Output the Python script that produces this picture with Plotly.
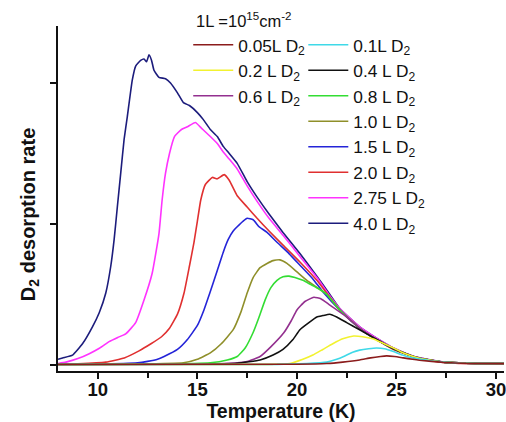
import plotly.graph_objects as go

# ---- data (Temperature K, D2 desorption rate, arb. units) ----
labels = ["0.05L D<sub>2</sub>", "0.1L D<sub>2</sub>", "0.2 L D<sub>2</sub>", "0.4 L D<sub>2</sub>",
          "0.6 L D<sub>2</sub>", "0.8 L D<sub>2</sub>", "1.0 L D<sub>2</sub>", "1.5 L D<sub>2</sub>",
          "2.0 L D<sub>2</sub>", "2.75 L D<sub>2</sub>", "4.0 L D<sub>2</sub>"]
colors = ["#8b1c1c", "#3fd9e8", "#f2f230", "#111111", "#93308f", "#33dd33",
          "#8f8f2a", "#2424d8", "#e03030", "#ff33ff", "#1c1c7c"]

T_005 = [8.0, 20.0, 21.5, 22.3, 23.15, 23.7, 24.2, 24.5, 24.9, 25.35, 25.8, 26.15, 27.35, 28.5, 30.5]
v_005 = [0.003, 0.005, 0.01, 0.02, 0.035, 0.05, 0.06, 0.064, 0.06, 0.05, 0.04, 0.033, 0.018, 0.011, 0.009]

T_01 = [8.0, 19.0, 20.5, 21.5, 22.0, 22.35, 22.8, 23.15, 23.6, 24.0, 24.4, 24.85, 25.3, 25.65, 26.15, 27.35, 28.5, 30.5]
v_01 = [0.003, 0.004, 0.01, 0.02, 0.04, 0.06, 0.09, 0.105, 0.115, 0.12, 0.115, 0.095, 0.07, 0.055, 0.042, 0.02, 0.012, 0.01]

T_02 = [8.0, 18.5, 19.65, 20.3, 20.8, 21.3, 21.8, 22.3, 22.85, 23.3, 23.8, 24.3, 24.85, 25.35, 26.15, 27.35, 28.5, 30.5]
v_02 = [0.003, 0.004, 0.01, 0.04, 0.07, 0.11, 0.15, 0.185, 0.205, 0.2, 0.185, 0.155, 0.12, 0.085, 0.048, 0.02, 0.012, 0.01]

T_04 = [8.0, 15.0, 17.0, 18.15, 18.8, 19.3, 19.8, 20.15, 20.6, 21.0, 21.3, 21.65, 22.0, 22.5, 23.15, 24.0, 24.85, 25.5, 26.15, 27.35, 28.5, 30.5]
v_04 = [0.003, 0.005, 0.012, 0.035, 0.07, 0.11, 0.18, 0.25, 0.30, 0.34, 0.35, 0.36, 0.34, 0.30, 0.25, 0.18, 0.115, 0.078, 0.048, 0.02, 0.012, 0.01]

T_06 = [8.0, 14.0, 16.5, 17.5, 18.15, 18.7, 19.35, 19.7, 20.0, 20.4, 20.85, 21.2, 21.6, 22.0, 22.5, 23.15, 24.0, 24.85, 25.5, 26.15, 27.35, 28.5, 30.5]
v_06 = [0.004, 0.005, 0.012, 0.025, 0.06, 0.13, 0.23, 0.31, 0.39, 0.45, 0.48, 0.47, 0.43, 0.39, 0.34, 0.26, 0.18, 0.115, 0.078, 0.048, 0.02, 0.012, 0.01]

T_08 = [8.0, 13.0, 15.65, 16.5, 17.0, 17.4, 17.8, 18.1, 18.4, 18.7, 19.0, 19.3, 19.6, 19.9, 20.3, 20.7, 21.1, 21.5, 22.15, 23.15, 24.0, 24.85, 25.5, 26.15, 27.35, 28.5, 30.5]
v_08 = [0.004, 0.006, 0.015, 0.035, 0.06, 0.12, 0.23, 0.34, 0.46, 0.55, 0.60, 0.625, 0.63, 0.62, 0.60, 0.57, 0.54, 0.50, 0.39, 0.26, 0.18, 0.115, 0.078, 0.048, 0.02, 0.012, 0.01]

T_10 = [8.0, 12.0, 14.3, 15.0, 15.65, 16.2, 16.8, 17.2, 17.5, 17.8, 18.15, 18.5, 18.8, 19.15, 19.5, 20.0, 20.5, 21.0, 21.5, 22.15, 23.15, 24.0, 24.85, 25.5, 26.15, 27.35, 28.5, 30.5]
v_10 = [0.004, 0.006, 0.015, 0.04, 0.085, 0.15, 0.25, 0.38, 0.51, 0.62, 0.69, 0.72, 0.74, 0.745, 0.72, 0.66, 0.60, 0.55, 0.50, 0.39, 0.26, 0.18, 0.115, 0.078, 0.048, 0.02, 0.012, 0.01]

T_15 = [8.0, 10.0, 12.0, 12.5, 13.0, 13.33, 14.0, 14.5, 15.0, 15.33, 15.6, 16.0, 16.3, 16.55, 16.8, 17.0, 17.3, 17.5, 17.8, 18.1, 18.5, 19.0, 19.6, 20.2, 20.8, 21.3, 22.15, 23.15, 24.0, 24.85, 25.5, 26.15, 27.35, 28.5, 30.5]
v_15 = [0.005, 0.006, 0.015, 0.025, 0.04, 0.06, 0.11, 0.18, 0.28, 0.39, 0.50, 0.67, 0.80, 0.89, 0.95, 0.98, 1.02, 1.04, 1.03, 0.98, 0.94, 0.87, 0.79, 0.70, 0.61, 0.52, 0.39, 0.26, 0.18, 0.115, 0.078, 0.048, 0.02, 0.012, 0.01]

T_20 = [8.0, 9.0, 10.4, 11.33, 12.07, 12.67, 13.2, 13.6, 14.0, 14.33, 14.6, 14.83, 15.0, 15.17, 15.4, 15.75, 16.0, 16.35, 16.6, 17.0, 17.5, 18.0, 18.6, 19.3, 20.15, 21.0, 21.6, 22.15, 23.15, 24.0, 24.85, 25.5, 26.15, 27.35, 28.5, 30.5]
v_20 = [0.005, 0.008, 0.02, 0.05, 0.10, 0.15, 0.20, 0.26, 0.36, 0.51, 0.70, 0.87, 1.02, 1.17, 1.28, 1.33, 1.32, 1.35, 1.31, 1.20, 1.12, 1.04, 0.95, 0.85, 0.73, 0.60, 0.49, 0.39, 0.26, 0.18, 0.11, 0.075, 0.045, 0.018, 0.01, 0.008]

T_275 = [8.0, 8.4, 9.0, 9.57, 10.1, 10.57, 11.0, 11.4, 11.9, 12.32, 12.73, 13.07, 13.23, 13.4, 13.6, 13.85, 14.2, 14.5, 14.9, 15.2, 15.65, 16.0, 16.3, 16.6, 17.0, 17.5, 18.0, 18.6, 19.3, 20.15, 21.0, 21.6, 22.15, 23.15, 24.0, 24.85, 25.5, 26.15, 27.35, 28.5, 30.5]
v_275 = [0.01, 0.02, 0.045, 0.08, 0.12, 0.165, 0.195, 0.22, 0.30, 0.46, 0.65, 0.93, 1.17, 1.36, 1.50, 1.62, 1.67, 1.69, 1.72, 1.68, 1.62, 1.57, 1.51, 1.46, 1.39, 1.27, 1.16, 1.04, 0.92, 0.77, 0.62, 0.50, 0.40, 0.27, 0.19, 0.12, 0.08, 0.05, 0.02, 0.012, 0.01]

T_40 = [8.0, 8.23, 8.73, 9.23, 9.73, 10.07, 10.4, 10.65, 10.82, 10.98, 11.15, 11.32, 11.48, 11.73, 11.9, 12.15, 12.32, 12.45, 12.57, 12.7, 12.82, 13.07, 13.4, 13.65, 14.0, 14.3, 14.6, 15.0, 15.3, 15.65, 16.0, 16.3, 16.6, 17.0, 17.5, 18.0, 18.6, 19.3, 20.15, 21.0, 21.6, 22.15, 23.15, 24.0, 24.85, 25.5, 26.15, 27.35, 28.5, 30.5]
v_40 = [0.04, 0.05, 0.07, 0.15, 0.27, 0.37, 0.51, 0.70, 0.89, 1.12, 1.36, 1.60, 1.76, 2.02, 2.12, 2.16, 2.17, 2.15, 2.20, 2.16, 2.09, 2.04, 2.03, 2.00, 1.93, 1.86, 1.84, 1.79, 1.74, 1.67, 1.62, 1.55, 1.50, 1.43, 1.30, 1.19, 1.07, 0.94, 0.79, 0.63, 0.51, 0.40, 0.27, 0.19, 0.12, 0.08, 0.05, 0.02, 0.012, 0.01]

series_T = [T_005, T_01, T_02, T_04, T_06, T_08, T_10, T_15, T_20, T_275, T_40]
series_v = [v_005, v_01, v_02, v_04, v_06, v_08, v_10, v_15, v_20, v_275, v_40]
left_column = {0, 2, 4}   # entries shown in the first legend column

x_ticks = [10, 15, 20, 25, 30]
y_ticks = [0, 1, 2]

FONT = "Liberation Sans, Arial, sans-serif"

fig = go.Figure()
# draw larger exposures first so small ones stay visible on top
for i in reversed(range(len(labels))):
    fig.add_trace(go.Scatter(
        x=series_T[i], y=series_v[i], mode="lines", name=labels[i],
        line=dict(color=colors[i], width=1.6, shape="spline", smoothing=0.4),
        legend="legend" if i in left_column else "legend2",
        legendrank=i,
    ))

legend_common = dict(yanchor="top", xanchor="left", bgcolor="rgba(0,0,0,0)",
                     font=dict(size=17.3), traceorder="normal", itemwidth=40,
                     tracegroupgap=0, maxheight=400)
fig.update_layout(
    width=506, height=422,
    margin=dict(l=58, r=0, t=26, b=51),
    paper_bgcolor="white", plot_bgcolor="white",
    font=dict(family=FONT, size=17, color="#111"),
    legend=dict(x=0.292, y=0.997, **legend_common),
    legend2=dict(x=0.55, y=0.997, **legend_common),
    annotations=[
        dict(text="1L =10<sup>15</sup>cm<sup>-2</sup>", xref="paper", yref="paper",
             x=(195 - 58) / 448, y=(371 - 20) / 345, xanchor="left", yanchor="middle",
             showarrow=False, font=dict(size=16.5)),
        dict(text="<b>D<sub>2</sub> desorption rate</b>", xref="paper", yref="paper",
             x=(30 - 58) / 448, y=(371 - 215) / 345, xanchor="center", yanchor="middle",
             textangle=-90, showarrow=False, font=dict(size=20)),
    ],
)
fig.update_xaxes(
    range=[8, 30.4], tickvals=x_ticks, ticktext=[f"<b>{t}</b>" for t in x_ticks],
    ticks="outside", ticklen=6, tickwidth=1.5, tickcolor="#111",
    ticklabeloverflow="allow", ticklabelstandoff=-5,
    minor=dict(dtick=2.5, tick0=0, ticks="outside", ticklen=5, tickwidth=1.5, tickcolor="#111"),
    showline=True, linecolor="#111", linewidth=2, showgrid=False, zeroline=False,
    tickfont=dict(size=18.5),
    title=dict(text="<b>Temperature (K)</b>", font=dict(size=19.5), standoff=3),
)
fig.update_yaxes(
    range=[-0.043, 2.404], tickvals=y_ticks, showticklabels=False,
    ticks="outside", ticklen=6, tickwidth=1.5, tickcolor="#111",
    showline=True, linecolor="#111", linewidth=2, showgrid=False, zeroline=False,
)

fig.write_html("out.html")
